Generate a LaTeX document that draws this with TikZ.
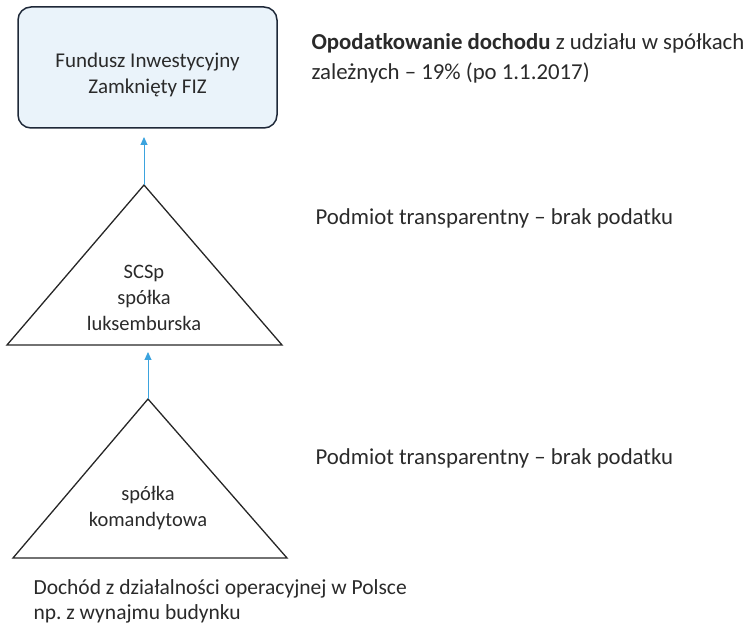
\documentclass[tikz,border=0pt]{standalone}
\usepackage{fontspec}
\setmainfont{Carlito}
\usetikzlibrary{arrows.meta,positioning}
\definecolor{fizfill}{HTML}{EAF3FA}
\definecolor{fizdraw}{HTML}{1E2838}
\definecolor{flow}{HTML}{3BA3DE}
\definecolor{ink}{HTML}{2A2A2A}

\begin{document}
\begin{tikzpicture}[
  x=1pt, y=-1pt,
  fund/.style={draw=fizdraw, line width=1.5pt, rounded corners=13pt, fill=fizfill, minimum width=259pt, minimum height=121pt, align=center, font=\fontsize{21}{26}\selectfont, text=ink},
  entity/.style={draw=black!85, line width=1.3pt, line join=miter},
  inside/.style={align=center, font=\fontsize{20.5}{26}\selectfont, text=ink},
  note/.style={anchor=west, align=left, font=\fontsize{22.8}{30}\selectfont, text=ink},
  source/.style={anchor=west, align=left, font=\fontsize{21.5}{25}\selectfont, text=ink},
  arrow/.style={-{Triangle[length=8pt, width=7pt]}, flow, line width=1pt}
]
  \useasboundingbox (0,0) rectangle (753,628);

  % Fund
  \node[fund] (fiz) at (147.5,67.5) {\rule{0pt}{29pt}Fundusz Inwestycyjny\\Zamknięty FIZ};
  \node[note] (tax) at (308,58) {\textbf{Opodatkowanie dochodu} z udziału w spółkach\\zależnych -- 19\% (po 1.1.2017)};

  % SCSp
  \coordinate (scsp) at (144,185);
  \draw[entity] (scsp) -- (282,345) -- (7,345) -- cycle;
  \node[inside] (scsplbl) at (144,298) {SCSp\\spółka\\luksemburska};
  \node[note] (transp1) at (312,218) {Podmiot transparentny -- brak podatku};

  % Limited partnership
  \coordinate (sk) at (148,399);
  \draw[entity] (sk) -- (287,558) -- (13,558) -- cycle;
  \node[inside] (sklbl) at (148,508) {spółka\\komandytowa};
  \node[note] (transp2) at (312,458) {Podmiot transparentny -- brak podatku};

  % Income
  \node[source] (income) at (30,601) {Dochód z działalności operacyjnej w Polsce\\np.\ z wynajmu budynku};

  % Arrows
  \draw[arrow] (scsp) -- (144,137);
  \draw[arrow] (sk) -- (148,352);
\end{tikzpicture}
\end{document}
